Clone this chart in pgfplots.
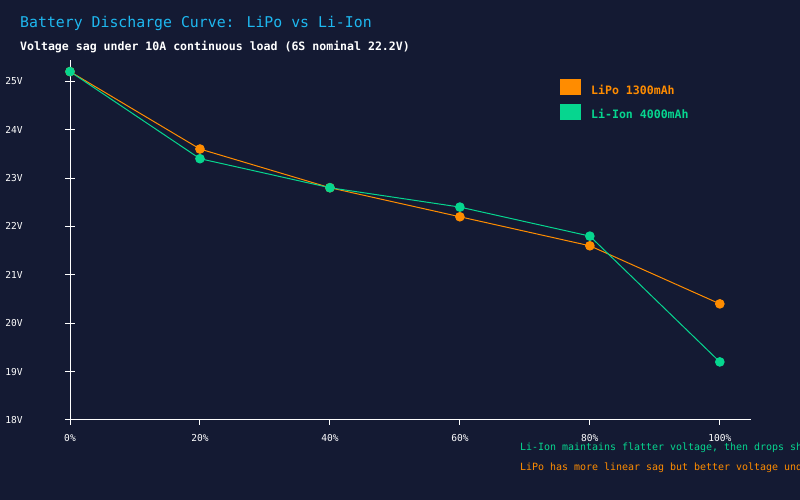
\documentclass[border=0pt]{standalone}
\usepackage{pgfplots}
\pgfplotsset{compat=1.18}
\usepackage{fontspec}
\setmainfont{DejaVu Sans Mono}
\definecolor{bg}{HTML}{141A33}
\definecolor{titlec}{HTML}{1EB8F0}
\definecolor{lipo}{HTML}{FF8C00}
\definecolor{liion}{HTML}{06D68F}
\begin{document}
\begin{tikzpicture}[x=1bp,y=1bp]
\useasboundingbox (0,0) rectangle (800,500);
\fill[bg] (0,0) rectangle (800,500);
\clip (0,0) rectangle (800,500);
\node[anchor=base west, inner sep=0, text=titlec, font=\fontsize{14.9}{18}\selectfont] at (20,472) {Battery Discharge Curve: LiPo vs Li-Ion};
\node[anchor=base west, inner sep=0, text=white, font=\bfseries\fontsize{11.6}{14}\selectfont] at (20,449) {Voltage sag under 10A continuous load (6S nominal 22.2V)};
\begin{axis}[
  at={(70bp,80bp)}, anchor=south west,
  scale only axis, width=681bp, height=360bp,
  xmin=0, xmax=104.8, ymin=18, ymax=25.44,
  axis lines*=left,
  axis line style={white, line width=1bp},
  tick style={white, line width=1bp},
  tick align=outside,
  xtick={0,20,40,60,80,100},
  xticklabels={0\%,20\%,40\%,60\%,80\%,100\%},
  ytick={18,19,20,21,22,23,24,25},
  yticklabels={18V,19V,20V,21V,22V,23V,24V,25V},
  xtick style={/pgfplots/major tick length=5bp},
  ytick style={/pgfplots/major tick length=10bp, xshift=5bp},
  ticklabel style={text=white, font=\fontsize{9.6}{12}\selectfont},
  yticklabel style={anchor=east, inner sep=0pt, xshift=-43bp},
  xticklabel style={anchor=north, inner sep=0pt, yshift=-10bp},
  clip=false,
  legend style={at={(0.7195,0.947)}, anchor=north west, draw=none, fill=none,
    font=\bfseries\fontsize{11.6}{14}\selectfont, row sep=8bp, column sep=10bp,
    inner sep=0pt, nodes={inner sep=0pt}},
  legend cell align=left,
  legend image code/.code={\fill[#1] (0bp,-4.5bp) rectangle (20bp,10.5bp);},
]
\addplot[lipo, line width=1bp, mark=*, mark size=4.3bp, mark options={fill=lipo, draw=lipo}]
  coordinates {(0,25.2) (20,23.6) (40,22.8) (60,22.2) (80,21.6) (100,20.4)};
\addlegendentry{\textcolor{lipo}{LiPo 1300mAh}}
\addplot[liion, line width=1bp, mark=*, mark size=4.3bp, mark options={fill=liion, draw=liion}]
  coordinates {(0,25.2) (20,23.4) (40,22.8) (60,22.4) (80,21.8) (100,19.2)};
\addlegendentry{\textcolor{liion}{Li-Ion 4000mAh}}
\end{axis}
\node[anchor=base west, inner sep=0, text=liion, font=\fontsize{10}{12}\selectfont] at (520,49) {Li-Ion maintains flatter voltage, then drops sharply below 20\%};
\node[anchor=base west, inner sep=0, text=lipo, font=\fontsize{10}{12}\selectfont] at (520,29) {LiPo has more linear sag but better voltage under load};
\end{tikzpicture}
\end{document}
